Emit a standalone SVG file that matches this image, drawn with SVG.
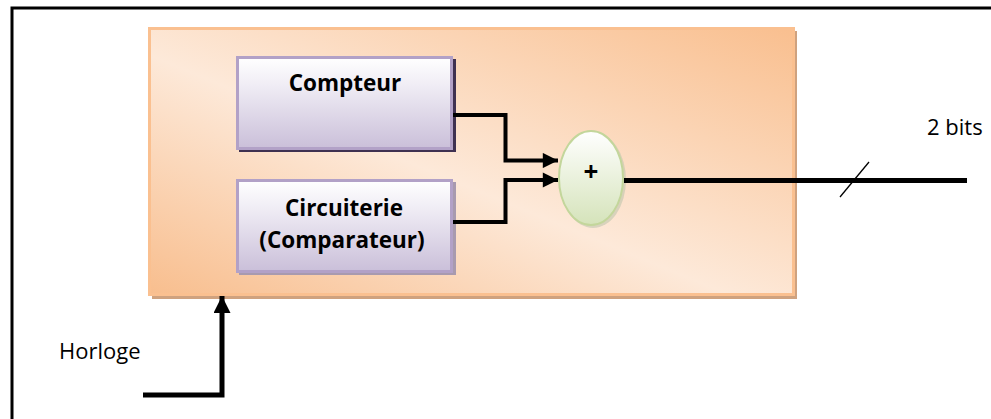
<svg xmlns="http://www.w3.org/2000/svg" width="991" height="419" viewBox="0 0 991 419">
<defs>
<linearGradient id="gOrange" x1="0" y1="1" x2="1" y2="0">
<stop offset="0" stop-color="#F8BE8E"/>
<stop offset="0.45" stop-color="#FDE9D9"/>
<stop offset="1" stop-color="#F9BF8F"/>
</linearGradient>
<linearGradient id="gPurple" x1="0" y1="0" x2="0" y2="1">
<stop offset="0" stop-color="#FFFFFF"/>
<stop offset="0.3" stop-color="#F0EDF5"/>
<stop offset="1" stop-color="#CABFD9"/>
</linearGradient>
<linearGradient id="gGreen" x1="0" y1="0" x2="0" y2="1">
<stop offset="0" stop-color="#FFFFFF"/>
<stop offset="1" stop-color="#D5E3BA"/>
</linearGradient>
<marker id="arr" viewBox="0 0 10 10" refX="10" refY="5" markerWidth="4.3" markerHeight="3.8" markerUnits="strokeWidth" orient="auto">
<path d="M0,0 L10,5 L0,10 z" fill="#000"/>
</marker>
<marker id="arr2" viewBox="0 0 10 10" refX="10" refY="5" markerWidth="3.4" markerHeight="3.4" markerUnits="strokeWidth" orient="auto">
<path d="M0,0 L10,5 L0,10 z" fill="#000"/>
</marker>
<style>
.lbl{font-family:"Open Sans","Liberation Sans",sans-serif;font-weight:bold;font-size:22.5px;fill:#000;text-anchor:middle}
.txt{font-family:"Open Sans","Liberation Sans",sans-serif;font-size:22px;fill:#000}
.wire{fill:none;stroke:#000;stroke-width:4}
.box{fill:url(#gPurple);stroke:#B2A1C7;stroke-width:3}
</style>
</defs>
<g id="frame">
<path d="M12,419 V8 H991" fill="none" stroke="#000" stroke-width="3"/>
</g>
<g id="system">
<rect x="152" y="31" width="645" height="268" fill="#CFA27F"/>
<rect x="149.5" y="28.5" width="644" height="266" fill="url(#gOrange)" stroke="#FAC090" stroke-width="3"/>
</g>
<g id="compteur">
<rect x="239" y="59" width="217" height="93" fill="#3F3151"/>
<rect x="237.5" y="57.5" width="214" height="91" class="box"/>
<text x="345" y="91" class="lbl">Compteur</text>
</g>
<g id="circuiterie">
<rect x="239" y="182" width="217" height="93" fill="#A89AAF"/>
<rect x="237.5" y="180.5" width="214" height="91" class="box"/>
<text x="344" y="216" class="lbl">Circuiterie</text>
<text x="342" y="248" class="lbl">(Comparateur)</text>
</g>
<g id="adder">
<ellipse cx="593" cy="180" rx="33" ry="48" fill="#BFC7AE" opacity="0.6"/>
<ellipse cx="591" cy="178" rx="32" ry="47" fill="url(#gGreen)" stroke="#C3D69B" stroke-width="2"/>
<text x="591" y="181" class="lbl" style="font-size:26px">+</text>
</g>
<g id="labels">
<text x="927" y="135" class="txt">2 bits</text>
<text x="59" y="359" class="txt">Horloge</text>
</g>
<g id="connectors">
<path d="M453,115 H505.5 V160.5 H558" class="wire" marker-end="url(#arr)"/>
<path d="M453,222 H505.5 V180 H558" class="wire" marker-end="url(#arr)"/>
<path d="M624,180.5 H967" class="wire" style="stroke-width:5"/>
<path d="M869,162 L840,197" fill="none" stroke="#000" stroke-width="1.3"/>
<path d="M143,395 H222 V296" class="wire" style="stroke-width:5" marker-end="url(#arr2)"/>
</g>
</svg>
